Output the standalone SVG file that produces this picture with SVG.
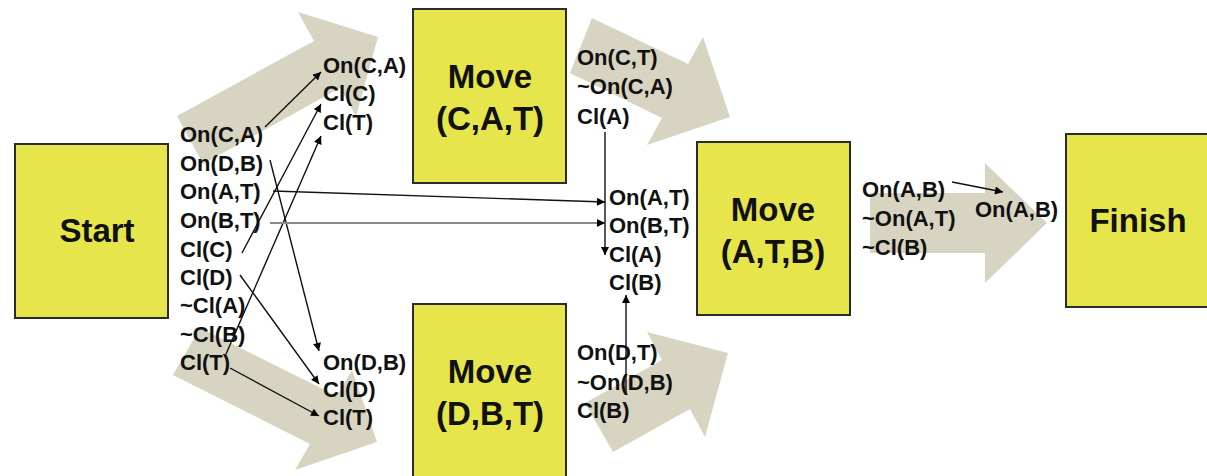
<svg xmlns="http://www.w3.org/2000/svg" width="1207" height="476" viewBox="0 0 1207 476">
<style>
.box{fill:#e6e54b;stroke:#2b2b2b;stroke-width:2}
.big{font-family:"Liberation Sans",Arial,sans-serif;font-weight:bold;font-size:33px;fill:#111;text-anchor:middle}
.lbl{font-family:"Liberation Sans",Arial,sans-serif;font-weight:bold;font-size:22px;fill:#111}
.fat{fill:#d8d4c2}
.ln{stroke:#111;stroke-width:1.4;fill:none;marker-end:url(#ah)}
.lng{stroke:#8a8a8a;stroke-width:2.2;fill:none;marker-end:url(#ah)}
</style>
<defs>
<marker id="ah" viewBox="0 0 10 10" refX="10" refY="5" markerWidth="9" markerHeight="8" markerUnits="userSpaceOnUse" orient="auto"><path d="M0,0 L10,5 L0,10 z" fill="#000"/></marker>
</defs>
<rect width="1207" height="476" fill="#fff"/>
<g id="flow-arrows">
<polygon class="fat" points="177,116 314,41 298,12 378,37 356,116 340,88 203,164"/>
<polygon class="fat" points="200,328 337,396 352,370 377,442 295,470 310,444 173,375"/>
<polygon class="fat" points="592,18 688,64 703,37 730,117 647,145 662,118 570,73"/>
<polygon class="fat" points="585,403 662,360 647,332 728,353 705,437 690,409 613,452"/>
<polygon class="fat" points="870,193 985,193 985,163 1047,223 985,283 985,253 870,253"/>
</g>
<g id="node-start"><rect class="box" x="15" y="144" width="153" height="174"/><text class="big" x="97" y="242">Start</text></g>
<g id="node-move-cat"><rect class="box" x="413" y="9" width="153" height="174"/><text class="big" x="490" y="88">Move</text><text class="big" x="490" y="130">(C,A,T)</text></g>
<g id="node-move-dbt"><rect class="box" x="413" y="304" width="153" height="176"/><text class="big" x="490" y="383">Move</text><text class="big" x="490" y="425">(D,B,T)</text></g>
<g id="node-move-atb"><rect class="box" x="697" y="142" width="153" height="173"/><text class="big" x="773" y="221">Move</text><text class="big" x="773" y="263">(A,T,B)</text></g>
<g id="node-finish"><rect class="box" x="1066" y="134" width="153" height="173"/><text class="big" x="1138" y="232">Finish</text></g>
<g id="connectors">
<line class="ln" x1="265" y1="127" x2="321" y2="72"/>
<line class="ln" x1="242" y1="253" x2="321" y2="104"/>
<line class="ln" x1="226" y1="354" x2="321" y2="136"/>
<line class="ln" x1="270" y1="160" x2="319" y2="351"/>
<line class="ln" x1="240" y1="275" x2="319" y2="384"/>
<line class="ln" x1="230" y1="368" x2="319" y2="416"/>
<line class="ln" x1="273" y1="191" x2="605" y2="202"/>
<line class="lng" x1="270" y1="223" x2="605" y2="223"/>
<line class="ln" x1="605" y1="132" x2="605" y2="255"/>
<line class="ln" x1="626" y1="395" x2="626" y2="295"/>
<line class="ln" x1="952" y1="182" x2="1003" y2="192"/>
</g>
<g id="labels-start">
<text class="lbl" x="180" y="142">On(C,A)</text>
<text class="lbl" x="180" y="171">On(D,B)</text>
<text class="lbl" x="180" y="199">On(A,T)</text>
<text class="lbl" x="180" y="228">On(B,T)</text>
<text class="lbl" x="180" y="257">Cl(C)</text>
<text class="lbl" x="180" y="285">Cl(D)</text>
<text class="lbl" x="180" y="313">~Cl(A)</text>
<text class="lbl" x="180" y="342">~Cl(B)</text>
<text class="lbl" x="180" y="370">Cl(T)</text>
</g>
<g id="labels-pre-cat">
<text class="lbl" x="323" y="73">On(C,A)</text>
<text class="lbl" x="323" y="101">Cl(C)</text>
<text class="lbl" x="323" y="130">Cl(T)</text>
</g>
<g id="labels-pre-dbt">
<text class="lbl" x="323" y="370">On(D,B)</text>
<text class="lbl" x="323" y="397">Cl(D)</text>
<text class="lbl" x="323" y="425">Cl(T)</text>
</g>
<g id="labels-post-cat">
<text class="lbl" x="577" y="65">On(C,T)</text>
<text class="lbl" x="577" y="94">~On(C,A)</text>
<text class="lbl" x="577" y="124">Cl(A)</text>
</g>
<g id="labels-post-dbt">
<text class="lbl" x="577" y="360">On(D,T)</text>
<text class="lbl" x="577" y="390">~On(D,B)</text>
<text class="lbl" x="577" y="418">Cl(B)</text>
</g>
<g id="labels-pre-atb">
<text class="lbl" x="609" y="205">On(A,T)</text>
<text class="lbl" x="609" y="233">On(B,T)</text>
<text class="lbl" x="609" y="262">Cl(A)</text>
<text class="lbl" x="609" y="290">Cl(B)</text>
</g>
<g id="labels-post-atb">
<text class="lbl" x="862" y="197">On(A,B)</text>
<text class="lbl" x="862" y="226">~On(A,T)</text>
<text class="lbl" x="862" y="255">~Cl(B)</text>
</g>
<g id="labels-finish">
<text class="lbl" x="975" y="217">On(A,B)</text>
</g>
</svg>
